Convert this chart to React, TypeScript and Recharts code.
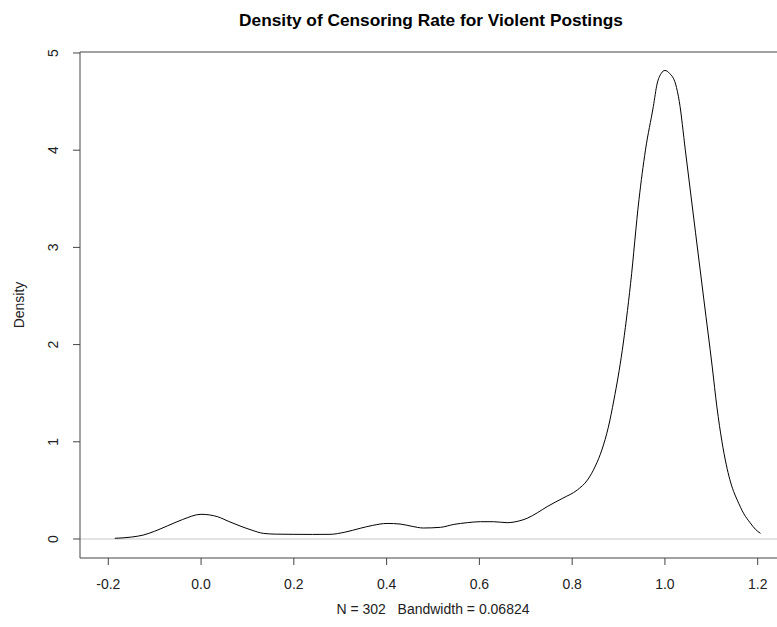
import React from "react";
import {
  LineChart,
  Line,
  XAxis,
  YAxis,
  ReferenceLine,
  Label,
} from "recharts";

// Kernel density estimate of the censoring rate (grid points and density values)
const densityX = [
  -0.186, -0.15, -0.125, -0.1, -0.073, -0.04, 0, 0.035, 0.06, 0.084, 0.11,
  0.134, 0.16, 0.2, 0.24, 0.278, 0.31, 0.343, 0.37, 0.401, 0.429, 0.455, 0.479,
  0.516, 0.545, 0.574, 0.602, 0.63, 0.66, 0.685, 0.703, 0.725, 0.746, 0.78,
  0.811, 0.833, 0.85, 0.864, 0.878, 0.89, 0.908, 0.926, 0.944, 0.958, 0.975,
  0.983, 0.992, 1.0, 1.01, 1.023, 1.031, 1.044, 1.066, 1.084, 1.102, 1.112,
  1.123, 1.132, 1.14, 1.148, 1.156, 1.17, 1.184, 1.195, 1.206,
];
const densityY = [
  0.007, 0.02, 0.04, 0.08, 0.134, 0.2, 0.254, 0.23, 0.18, 0.134, 0.09, 0.058,
  0.05, 0.048, 0.047, 0.048, 0.07, 0.11, 0.14, 0.16, 0.154, 0.13, 0.113, 0.12,
  0.15, 0.168, 0.178, 0.178, 0.168, 0.185, 0.213, 0.27, 0.333, 0.42, 0.504,
  0.607, 0.75, 0.916, 1.15, 1.43, 1.94, 2.63, 3.49, 4.0, 4.45, 4.68, 4.79,
  4.82, 4.79, 4.68, 4.5, 4.0, 3.15, 2.46, 1.77, 1.36, 1.0, 0.77, 0.61, 0.49,
  0.4, 0.26, 0.165, 0.1, 0.058,
];

const xTicks = [-0.2, 0, 0.2, 0.4, 0.6, 0.8, 1.0, 1.2];
const yTicks = [0, 1, 2, 3, 4, 5];

const title = "Density of Censoring Rate for Violent Postings";
const subtitle = "N = 302   Bandwidth = 0.06824";
const yLabel = "Density";

const X_DOMAIN: [number, number] = [-0.261, 1.261];
const Y_DOMAIN: [number, number] = [-0.1955, 5.01];

const data = densityX.map((x, i) => ({ x, y: densityY[i] }));

const FONT = "'Liberation Sans', Arial, sans-serif";
const AXIS = "#444";

const XTick = (props: any) => {
  const { x, y, payload } = props;
  return (
    <text
      x={x}
      y={y + 24}
      textAnchor="middle"
      fontFamily={FONT}
      fontSize={14}
      fill="#222"
    >
      {payload.value.toFixed(1)}
    </text>
  );
};

const YTick = (props: any) => {
  const { x, y, payload } = props;
  const cx = x - 20;
  return (
    <text
      x={cx}
      y={y}
      transform={`rotate(-90 ${cx} ${y})`}
      textAnchor="middle"
      dominantBaseline="central"
      fontFamily={FONT}
      fontSize={14}
      fill="#222"
    >
      {payload.value}
    </text>
  );
};

export default function App() {
  return (
    <div
      style={{
        position: "absolute",
        left: 0,
        top: 0,
        width: 777,
        height: 627,
        overflow: "hidden",
        background: "#fff",
      }}
    >
      <LineChart
        width={790}
        height={627}
        data={data}
        margin={{ top: 52, right: 4, bottom: 0, left: 0 }}
      >
        <XAxis
          dataKey="x"
          type="number"
          domain={X_DOMAIN}
          ticks={xTicks}
          allowDataOverflow
          height={69}
          tickSize={7}
          tickMargin={0}
          stroke={AXIS}
          tickLine={{ stroke: AXIS }}
          tick={<XTick />}
        >
          <Label
            content={() => (
              <text
                x={433}
                y={614}
                textAnchor="middle"
                fontFamily={FONT}
                fontSize={14}
                fill="#222"
                style={{ whiteSpace: "pre" }}
              >
                {subtitle}
              </text>
            )}
          />
        </XAxis>
        <YAxis
          type="number"
          domain={Y_DOMAIN}
          ticks={yTicks}
          allowDataOverflow
          width={80}
          tickSize={7}
          tickMargin={0}
          stroke={AXIS}
          tickLine={{ stroke: AXIS }}
          tick={<YTick />}
        >
          <Label
            content={() => (
              <text
                x={19}
                y={305}
                transform="rotate(-90 19 305)"
                textAnchor="middle"
                dominantBaseline="central"
                fontFamily={FONT}
                fontSize={14}
                fill="#222"
              >
                {yLabel}
              </text>
            )}
          />
        </YAxis>
        {/* top edge of the plot frame, with the main title above it */}
        <ReferenceLine
          y={Y_DOMAIN[1]}
          stroke={AXIS}
          strokeWidth={1}
          ifOverflow="extendDomain"
          label={() => (
            <text
              x={431}
              y={26}
              textAnchor="middle"
              fontFamily={FONT}
              fontSize={17.3}
              fontWeight="bold"
              fill="#000"
            >
              {title}
            </text>
          )}
        />
        <ReferenceLine y={0} stroke="#c8c8c8" strokeWidth={1} />
        <Line
          type="monotone"
          dataKey="y"
          stroke="#000"
          strokeWidth={1}
          dot={false}
          isAnimationActive={false}
        />
      </LineChart>
    </div>
  );
}
